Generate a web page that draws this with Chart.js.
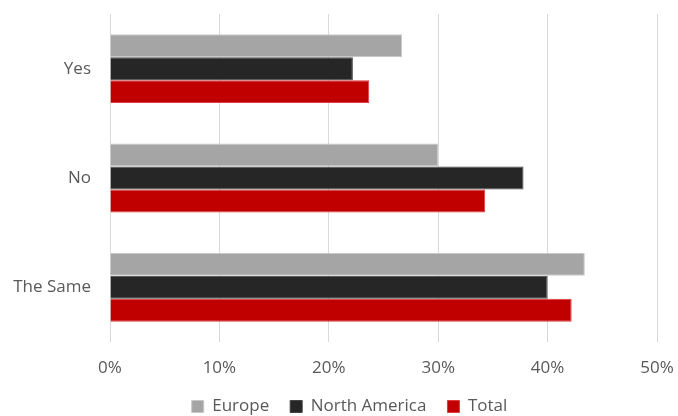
<!DOCTYPE html>
<html>
<head>
<meta charset="utf-8">
<script src="https://cdn.jsdelivr.net/npm/chart.js@4"></script>
<style>
  html, body { margin: 0; padding: 0; background: #fff; }
  #wrap { width: 678px; height: 416px; }
</style>
</head>
<body>
<div id="wrap"><canvas id="answersChart"></canvas></div>
<script>
// answers by region, in percent
const categories = ['Yes', 'No', 'The Same'];
const europe = [26.7, 30.0, 43.4];
const northAmerica = [22.2, 37.8, 40.0];
const total = [23.7, 34.3, 42.2];
const xTicks = [0, 10, 20, 30, 40, 50];

const textColor = '#595959';
const font = { family: 'Open Sans', size: 17 };

// nudge the legend so it sits centred under the plot rather than the canvas
const legendShift = {
    id: 'legendShift',
    afterLayout(chart) {
        chart.legend.left += 21;
        chart.legend.right += 21;
    }
};

const ctx = document.getElementById('answersChart').getContext('2d');
new Chart(ctx, {
    type: 'bar',
    data: {
        labels: categories,
        datasets: [
            { label: 'Europe', data: europe, backgroundColor: '#a5a5a5', borderColor: '#c8c8c8', borderWidth: 1 },
            { label: 'North America', data: northAmerica, backgroundColor: '#262626', borderColor: '#444444', borderWidth: 1 },
            { label: 'Total', data: total, backgroundColor: '#c00000', borderColor: '#e0393e', borderWidth: 1 }
        ]
    },
    plugins: [legendShift],
    options: {
        indexAxis: 'y',
        responsive: true,
        maintainAspectRatio: false,
        animation: false,
        barPercentage: 1,
        categoryPercentage: 0.63,
        layout: { padding: { top: 14, right: 21, bottom: -9, left: 0 } },
        plugins: {
            tooltip: { enabled: false },
            legend: {
                position: 'bottom',
                labels: {
                    color: textColor,
                    font: font,
                    boxWidth: 12,
                    boxHeight: 12,
                    padding: 21,
                    useBorderRadius: false
                }
            }
        },
        scales: {
            x: {
                min: 0,
                max: 50,
                afterBuildTicks: (scale) => { scale.ticks = xTicks.map(v => ({ value: v })); },
                afterFit: (scale) => {
                    scale.height = 35;
                    scale.paddingRight = 0;
                },
                grid: { color: '#d9d9d9', drawTicks: false, lineWidth: 1 },
                border: { display: false },
                ticks: {
                    color: textColor,
                    font: font,
                    padding: 16,
                    callback: (v) => v + '%'
                }
            },
            y: {
                afterFit: (scale) => {
                    scale.width = 110;
                    scale.paddingTop = 0;
                    scale.paddingBottom = 0;
                },
                grid: { display: false, drawTicks: false },
                border: { display: false },
                ticks: { color: textColor, font: font, padding: 19 }
            }
        }
    }
});
</script>
</body>
</html>
